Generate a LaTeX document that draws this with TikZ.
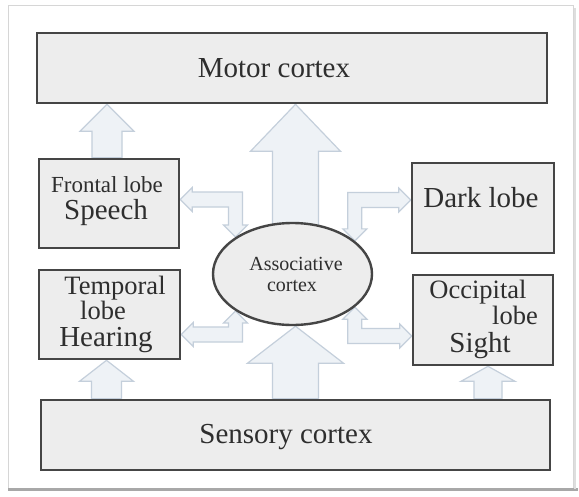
\documentclass[tikz,border=0pt]{standalone}
\usepackage{fontspec}
\setmainfont{Liberation Serif}
\usetikzlibrary{calc,shapes.geometric}
\definecolor{boxfill}{HTML}{EDEDED}
\definecolor{boxline}{HTML}{454545}
\definecolor{arrfill}{HTML}{EEF2F6}
\definecolor{arrline}{HTML}{C4CFDB}
\definecolor{txtcol}{HTML}{2E2E2E}
\definecolor{framecol}{HTML}{D6D6D6}
\definecolor{shadowcol}{HTML}{A8A8A8}
\pgfdeclarelayer{background}
\pgfdeclarelayer{canvas}
\pgfsetlayers{canvas,background,main}
\tikzset{
  box/.style={draw=boxline, fill=boxfill, line width=2.6pt, inner sep=0pt},
  blockarrow/.style={draw=arrline, fill=arrfill, line width=1.2pt, line join=miter},
  bigtxt/.style={text=txtcol, inner sep=0pt, font=\fontsize{29}{29}\selectfont},
  midtxt/.style={text=txtcol, inner sep=0pt, font=\fontsize{26.5}{26.5}\selectfont},
  frtxt/.style={text=txtcol, inner sep=0pt, font=\fontsize{23}{23}\selectfont},
  asstxt/.style={text=txtcol, inner sep=0pt, font=\fontsize{20}{20}\selectfont},
}
% straight up block arrow: #1 base, #2 tip, #3 shaft half width, #4 head half width, #5 head length
\newcommand\blockup[5]{%
  \draw[blockarrow] ($(#1)+(-#3,0)$) -- ($(#2)+(-#3,#5)$) -- ($(#2)+(-#4,#5)$) -- (#2)
    -- ($(#2)+(#4,#5)$) -- ($(#2)+(#3,#5)$) -- ($(#1)+(#3,0)$) -- cycle;}
% elbow double block arrow: #1 horizontal tip, #2 vertical tip, #3 dx sign, #4 dy sign
\newcommand\elbowblk[4]{%
  \coordinate (elbC) at (#2 |- #1);
  \draw[blockarrow] (#1)
    -- ($(#1)+({(#3)*12},{-(#4)*12})$)
    -- ($(#1)+({(#3)*12},{-(#4)*7.5})$)
    -- ($(elbC)+({(#3)*7},{-(#4)*7.5})$)
    -- ($(#2)+({(#3)*7},{-(#4)*12})$)
    -- ($(#2)+({(#3)*12},{-(#4)*12})$)
    -- (#2)
    -- ($(#2)+({-(#3)*12},{-(#4)*12})$)
    -- ($(#2)+({-(#3)*7},{-(#4)*12})$)
    -- ($(elbC)+({-(#3)*7},{(#4)*7.5})$)
    -- ($(#1)+({(#3)*12},{(#4)*7.5})$)
    -- ($(#1)+({(#3)*12},{(#4)*12})$)
    -- cycle;}
\begin{document}
\begin{tikzpicture}[x=1pt,y=-1pt]
\useasboundingbox (0,0) rectangle (579,496);
\begin{pgfonlayer}{canvas}
\fill[white] (0,0) rectangle (579,496);
% outer frame
\draw[framecol, line width=1pt] (8,5) rectangle (573,488);
\draw[shadowcol, line width=2.5pt] (8,489.5) -- (578,489.5);
\draw[framecol!80, line width=1.5pt] (575,8) -- (575,489);
\end{pgfonlayer}

% boxes
\node[box, minimum width=510, minimum height=70] (motor) at (292,68) {};
\node[box, minimum width=140, minimum height=89] (frontal) at (109,203.5) {};
\node[box, minimum width=142, minimum height=90] (dark) at (483,208) {};
\node[box, minimum width=141, minimum height=89] (temporal) at (109.5,314.5) {};
\node[box, minimum width=140, minimum height=90] (occipital) at (483,320) {};
\node[box, minimum width=509, minimum height=70] (sensory) at (295.5,435) {};
\node[draw=boxline, fill=boxfill, line width=2.4pt, ellipse, inner sep=0pt,
      minimum width=159, minimum height=102] (assoc) at (292.5,274) {};

% texts
\node[bigtxt] (motortxt) at (274,68) {Motor cortex};
\node[bigtxt] (sensorytxt) at (286,437) {Sensory cortex};
\node[frtxt] (frontaltxt) at (107,185) {Frontal lobe};
\node[bigtxt] (speechtxt) at (106,213) {Speech};
\node[midtxt] (temporaltxt) at (115,288) {Temporal};
\node[midtxt] (lobetxtA) at (103,310) {lobe};
\node[bigtxt] (hearingtxt) at (106,340) {Hearing};
\node[bigtxt] (darktxt) at (481,198) {Dark lobe};
\node[midtxt] (occipitaltxt) at (478,292) {Occipital};
\node[midtxt] (lobetxtB) at (515,315) {lobe};
\node[bigtxt] (sighttxt) at (480,346) {Sight};
\node[asstxt] (assoctxtA) at (296,264) {Associative};
\node[asstxt] (assoctxtB) at (292,286) {cortex};

\begin{pgfonlayer}{background}
  % straight block arrows
  \coordinate (bigTopBase) at ($(assoc.center)+(3,0)$);
  \coordinate (bigTopTip) at (bigTopBase |- motor.south);
  \blockup{bigTopBase}{bigTopTip}{23}{45}{47}
  \coordinate (bigBotTip) at ($(assoc.south)+(3,0)$);
  \coordinate (bigBotBase) at (bigBotTip |- sensory.north);
  \blockup{bigBotBase}{bigBotTip}{23}{48}{37}
  \coordinate (frBase) at ($(frontal.north)+(-2,0)$);
  \coordinate (frTip) at (frBase |- motor.south);
  \blockup{frBase}{frTip}{15}{27}{27}
  \coordinate (teTip) at ($(temporal.south)+(-3,0)$);
  \coordinate (teBase) at (teTip |- sensory.north);
  \blockup{teBase}{teTip}{15}{27}{21}
  \coordinate (ocTip) at ($(occipital.south)+(5,0)$);
  \coordinate (ocBase) at (ocTip |- sensory.north);
  \blockup{ocBase}{ocTip}{14}{27}{15}
  % elbow double arrows
  \coordinate (ulA) at ($(frontal.east)+(0,-4)$);
  \coordinate (ulB) at (assoc.147);
  \elbowblk{ulA}{ulB}{1}{1}
  \coordinate (urA) at ($(dark.west)+(0,-8)$);
  \coordinate (urB) at (assoc.28);
  \elbowblk{urA}{urB}{-1}{1}
  \coordinate (llA) at ($(temporal.east)+(0,20)$);
  \coordinate (llB) at (assoc.213);
  \elbowblk{llA}{llB}{1}{-1}
  \coordinate (lrA) at ($(occipital.west)+(0,16)$);
  \coordinate (lrB) at (assoc.332);
  \elbowblk{lrA}{lrB}{-1}{-1}
\end{pgfonlayer}
\end{tikzpicture}
\end{document}
